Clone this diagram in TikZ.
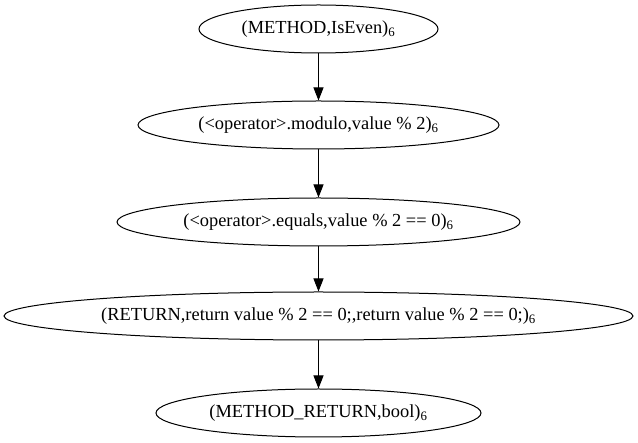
\documentclass[tikz,border=0pt]{standalone}
\usepackage{fontspec}
\setmainfont{Liberation Serif}
\usetikzlibrary{shapes.geometric,arrows.meta}
\begin{document}
\begin{tikzpicture}[x=1pt,y=-1pt,
  vnode/.style={draw, ellipse, line width=1pt, inner sep=0pt, minimum height=48pt,
    font=\fontsize{18.4pt}{22pt}\selectfont},
  edge/.style={line width=1pt, -{Triangle[length=13pt,width=10pt]}}]
\useasboundingbox (0,0) rectangle (638,443);
\newcommand{\sbsix}{\textsubscript{6}}
\node[vnode, minimum width=239pt] (n1) at (318.5,29) {(METHOD,IsEven)\sbsix};
\node[vnode, minimum width=361pt] (n2) at (318.5,125) {(<operator>.modulo,value \% 2)\sbsix};
\node[vnode, minimum width=403pt] (n3) at (318.5,222) {(<operator>.equals,value \% 2 == 0)\sbsix};
\node[vnode, minimum width=629pt] (n4) at (318.5,316) {(RETURN,return value \% 2 == 0;,return value \% 2 == 0;)\sbsix};
\node[vnode, minimum width=325pt] (n5) at (318.5,413) {(METHOD\_RETURN,bool)\sbsix};
\draw[edge] (n1) -- (n2);
\draw[edge] (n2) -- (n3);
\draw[edge] (n3) -- (n4);
\draw[edge] (n4) -- (n5);
\end{tikzpicture}
\end{document}
